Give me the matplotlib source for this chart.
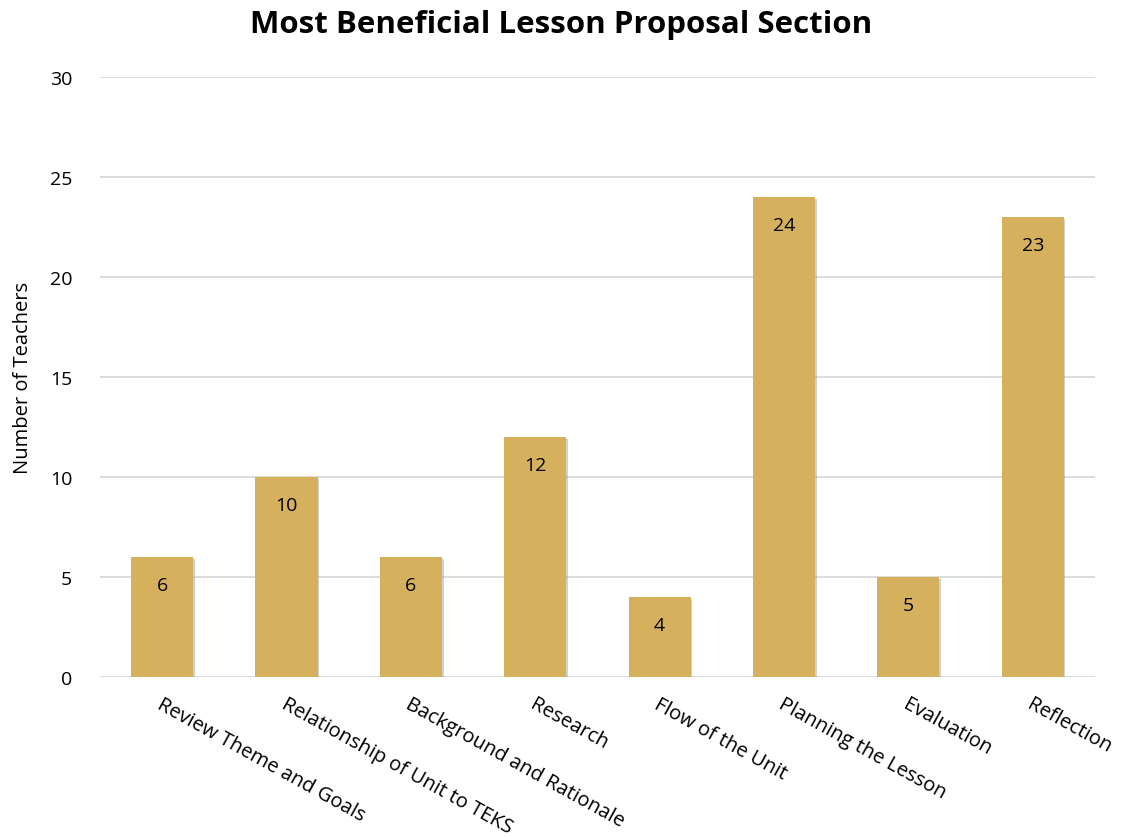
import matplotlib
matplotlib.use("Agg")
import matplotlib.pyplot as plt
import matplotlib.patheffects as pe

categories = ["Review Theme and Goals", "Relationship of Unit to TEKS", "Background and Rationale",
              "Research", "Flow of the Unit", "Planning the Lesson", "Evaluation", "Reflection"]
values = [6, 10, 6, 12, 4, 24, 5, 23]
yticks = [0, 5, 10, 15, 20, 25, 30]

plt.rcParams['font.family'] = ['Open Sans', 'DejaVu Sans']

fig = plt.figure(figsize=(11.23, 8.37), dpi=100)
ax = fig.add_axes([0.089, 0.190, 0.886, 0.717])

x = list(range(len(categories)))
bars = ax.bar(x, values, width=0.5, color="#D6B15D", zorder=3)
for b in bars:
    b.set_path_effects([pe.SimplePatchShadow(offset=(1.2, -1.2), shadow_rgbFace="#999999", alpha=0.45), pe.Normal()])

for xi, v in zip(x, values):
    ax.annotate(str(v), (xi, v), xytext=(0, -14), textcoords="offset points",
                ha="center", va="top", fontsize=14, color="black", zorder=4)

ax.set_xlim(-0.5, len(categories) - 0.5)
ax.set_ylim(0, 30)
ax.set_yticks(yticks)
ax.yaxis.grid(True, color="#D9D9D9", linewidth=1.3, zorder=0)
ax.set_axisbelow(True)
for s in ax.spines.values():
    s.set_visible(False)
ax.tick_params(axis="both", length=0, labelsize=14, colors="black")
ax.tick_params(axis="y", pad=20)
ax.set_xticks(x)
ax.set_xticklabels(categories, rotation=-29, ha="left", va="top", rotation_mode="anchor", fontsize=14.5)
for lbl in ax.get_xticklabels():
    lbl.set_transform(lbl.get_transform() + matplotlib.transforms.ScaledTranslation(0.01, -0.12, fig.dpi_scale_trans))

ax.set_ylabel("Number of Teachers", fontsize=14.5, labelpad=12)
fig.text(0.5, 0.988, "Most Beneficial Lesson Proposal Section", ha="center", va="top",
         fontsize=22.5, fontweight="bold")

fig.savefig("out.png", dpi=100, facecolor="white")
